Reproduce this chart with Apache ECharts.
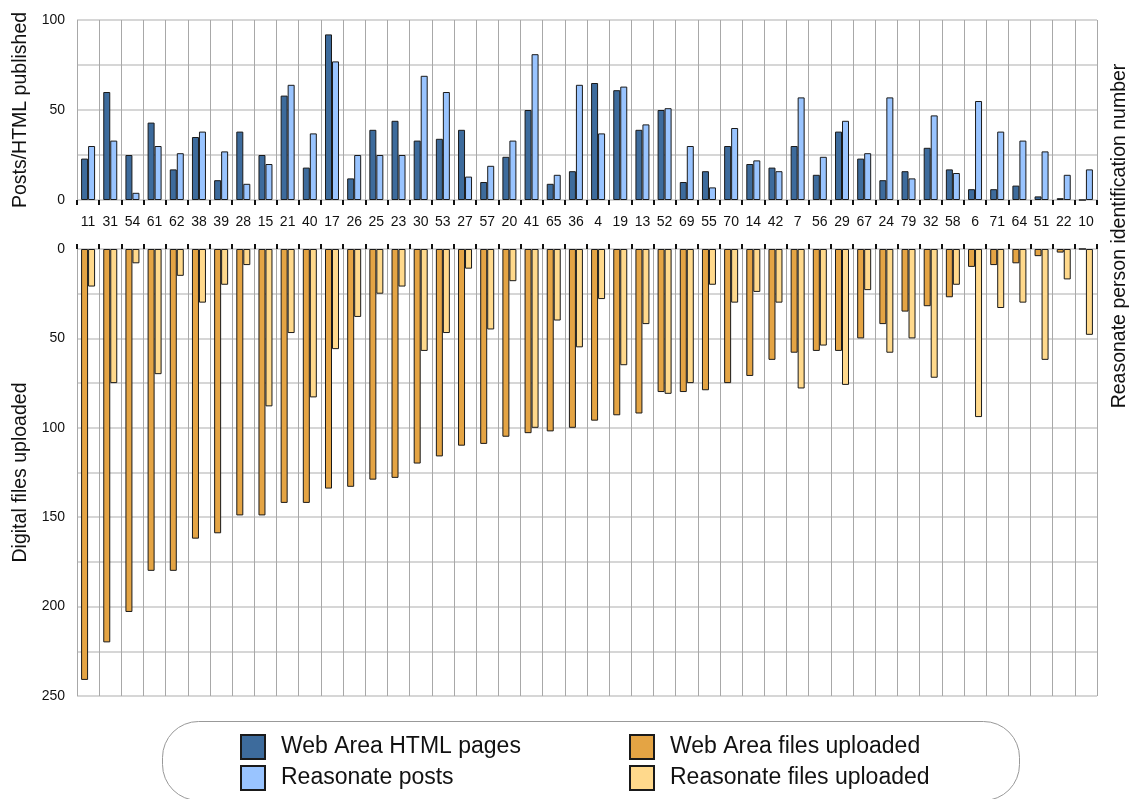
<!DOCTYPE html>
<html>
<head>
<meta charset="utf-8">
<script src="https://cdn.jsdelivr.net/npm/echarts@6/dist/echarts.min.js"></script>
<style>html,body{margin:0;padding:0;background:#fff;}#c{width:1139px;height:799px;}</style>
</head>
<body>
<div id="c"></div>
<script>
const categories = ['11','31','54','61','62','38','39','28','15','21','40','17','26','25','23','30','53','27','57','20','41','65','36','4','19','13','52','69','55','70','14','42','7','56','29','67','24','79','32','58','6','71','64','51','22','10'];
const webAreaHtmlPages = [23,60,25,43,17,35,11,38,25,58,18,92,12,39,44,33,34,39,10,24,50,9,16,65,61,39,50,10,16,30,20,18,30,14,38,23,11,16,29,17,6,6,8,2,1,0];
const reasonatePosts = [30,33,4,30,26,38,27,9,20,64,37,77,25,25,25,69,60,13,19,33,81,14,64,37,63,42,51,30,7,40,22,16,57,24,44,26,57,12,47,15,55,38,33,27,14,17];
const webAreaFilesUploaded = [241,220,203,180,180,162,159,149,149,142,142,134,133,129,128,120,116,110,109,105,103,102,100,96,93,92,80,80,79,75,71,62,58,57,57,50,42,35,32,27,10,9,8,4,2,0];
const reasonateFilesUploaded = [21,75,8,70,15,30,20,9,88,47,83,56,38,25,21,57,47,11,45,18,100,40,55,28,65,42,81,75,20,30,24,30,78,54,76,23,58,50,72,20,94,33,30,62,17,48];
const topTicks = [0,50,100];
const bottomTicks = [0,50,100,150,200,250];

const FONT = '"Liberation Sans", Arial, Helvetica, sans-serif';
const chart = echarts.init(document.getElementById('c'), null, {renderer:'canvas'});
const barStyle = (c) => ({color:c, borderColor:'#1a1a1a', borderWidth:1});
const catAxisCommon = {
  type:'category', data:categories, boundaryGap:true,
  axisLine:{show:false},
  axisTick:{show:true, length:5, lineStyle:{color:'#111', width:2}},
  splitLine:{show:true, lineStyle:{color:'#a8a8a8', width:1}}
};
const valAxisCommon = {
  type:'value', interval:25,
  axisLine:{show:false}, axisTick:{show:false},
  splitLine:{show:true, lineStyle:{color:'#d6d6d6', width:2}},
  nameLocation:'middle', nameRotate:90,
  nameTextStyle:{fontSize:19.5, color:'#111', fontFamily:FONT}
};
const legendCommon = {
  orient:'vertical', itemWidth:24, itemHeight:24, itemGap:5, icon:'rect', padding:0, height:60,
  textStyle:{fontSize:23, color:'#111', fontFamily:FONT, padding:[0,0,0,11]}
};
chart.setOption({
  backgroundColor:'#fff',
  animation:false,
  textStyle:{fontFamily:FONT},
  grid:[
    {left:77, right:42, top:20, height:180},
    {left:77, right:42, top:249, height:447}
  ],
  xAxis:[
    Object.assign({}, catAxisCommon, {gridIndex:0, position:'bottom',
      axisLabel:{show:true, interval:0, margin:15, fontSize:14, color:'#111', fontFamily:FONT}}),
    Object.assign({}, catAxisCommon, {gridIndex:1, position:'top', axisLabel:{show:false}})
  ],
  yAxis:[
    Object.assign({}, valAxisCommon, {gridIndex:0, min:0, max:100, name:'Posts/HTML published', nameGap:42,
      axisLabel:{fontSize:14, color:'#111', margin:12, fontFamily:FONT,
        formatter:(v)=> topTicks.indexOf(v) >= 0 ? String(v) : ''}}),
    Object.assign({}, valAxisCommon, {gridIndex:1, min:0, max:250, inverse:true, name:'Digital files uploaded', nameGap:42,
      axisLabel:{fontSize:14, color:'#111', margin:12, fontFamily:FONT,
        formatter:(v)=> bottomTicks.indexOf(v) >= 0 ? String(v) : ''}})
  ],
  legend:[
    Object.assign({}, legendCommon, {left:240, top:734, data:['Web Area HTML pages','Reasonate posts']}),
    Object.assign({}, legendCommon, {left:629, top:734, data:['Web Area files uploaded','Reasonate files uploaded']})
  ],
  graphic:[
    {type:'rect', left:160, top:719, shape:{width:857, height:79, r:36}, silent:true,
      style:{fill:'none', stroke:'#999', lineWidth:1}, z:-1},
    {type:'text', x:1120, y:236, rotation:Math.PI/2, silent:true,
      style:{text:'Reasonate person identification number', fontSize:19.5, fill:'#111', fontFamily:FONT,
        align:'center', verticalAlign:'middle'}}
  ],
  series:[
    {name:'Web Area HTML pages', type:'bar', xAxisIndex:0, yAxisIndex:0, data:webAreaHtmlPages,
      barWidth:7, barGap:'0%', itemStyle:barStyle('#3d6b9c')},
    {name:'Reasonate posts', type:'bar', xAxisIndex:0, yAxisIndex:0, data:reasonatePosts,
      barWidth:7, barGap:'0%', itemStyle:barStyle('#99c4ff')},
    {name:'Web Area files uploaded', type:'bar', xAxisIndex:1, yAxisIndex:1, data:webAreaFilesUploaded,
      barWidth:7, barGap:'0%', itemStyle:barStyle('#e4a444')},
    {name:'Reasonate files uploaded', type:'bar', xAxisIndex:1, yAxisIndex:1, data:reasonateFilesUploaded,
      barWidth:7, barGap:'0%', itemStyle:barStyle('#ffd98c')}
  ]
});
</script>
</body>
</html>
